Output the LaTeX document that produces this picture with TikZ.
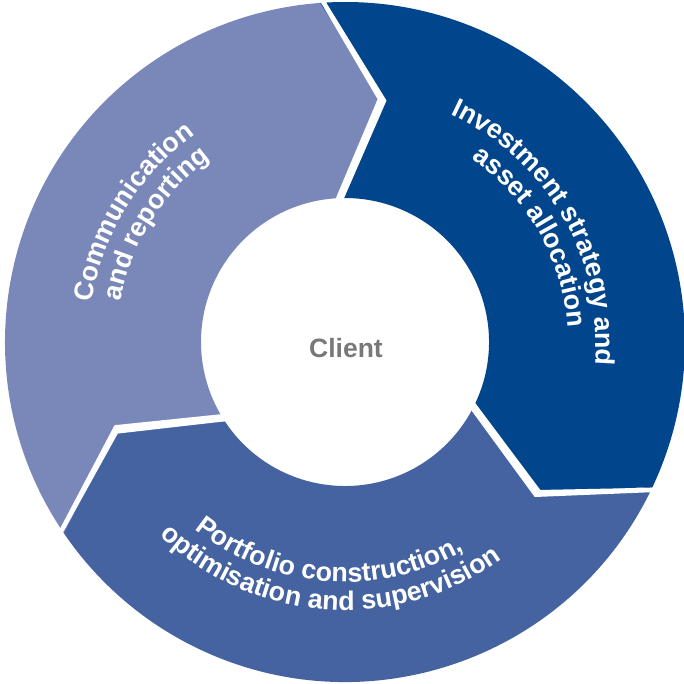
\documentclass[tikz,border=0pt]{standalone}
\usepackage{fontspec}
\setmainfont{Liberation Sans}
\usetikzlibrary{decorations.text,calc}
\definecolor{segLight}{RGB}{121,136,184}
\definecolor{segDark}{RGB}{1,70,140}
\definecolor{segMid}{RGB}{69,99,160}
\definecolor{clientGray}{RGB}{120,120,120}
\newcommand\ringgapfill[3]{%
  \fill[white] ({#1+0.4}:347pt) -- ({#2+1.05}:245pt) -- ({#3+1.75}:136pt)
     -- ({#3-1.75}:136pt) -- ({#2-1.05}:245pt) -- ({#1-0.4}:347pt) -- cycle;}
\tikzset{
  arctext/.style={decorate, decoration={text along path, text align=center,
      text color=white, text={|\fontsize{26.8pt}{30pt}\selectfont\bfseries|#1}}}
}
\begin{document}
\begin{tikzpicture}[x=1pt,y=1pt]
\useasboundingbox (-345,-341) rectangle (339,342);
% segments
\fill[segLight] (214.2:340pt) arc[start angle=214.2, end angle=94.2, radius=340pt]
  -- (81.3:245pt) -- (93.6:144pt) arc[start angle=93.6, end angle=213.4, radius=144pt]
  -- (200.9:245pt) -- cycle;
\fill[segDark] (94.2:340pt) arc[start angle=94.2, end angle=-25.2, radius=340pt]
  -- (-38.2:245pt) -- (-25.1:144pt) arc[start angle=-25.1, end angle=93.6, radius=144pt]
  -- (81.3:245pt) -- cycle;
\fill[segMid] (-25.2:340pt) arc[start angle=-25.2, end angle=-145.8, radius=340pt]
  -- (-159.1:245pt) -- (-146.6:144pt) arc[start angle=-146.6, end angle=-25.1, radius=144pt]
  -- (-38.2:245pt) -- cycle;
% gaps
\ringgapfill{94.2}{81.3}{93.6}
\ringgapfill{-25.2}{-38.2}{-25.1}
\ringgapfill{214.2}{200.9}{213.4}
% curved labels
\path[arctext={Communication}] (205:256pt) arc[start angle=205, end angle=92, radius=256pt];
\path[arctext={and reporting}] (205:228pt) arc[start angle=205, end angle=91, radius=228pt];
\path[arctext={Investment strategy and}] (89:251pt) arc[start angle=89, end angle=-29, radius=251pt];
\path[arctext={asset allocation}] (87:223pt) arc[start angle=87, end angle=-28, radius=223pt];
\path[arctext={Portfolio construction,}] (-160:240pt) arc[start angle=-160, end angle=-29, radius=240pt];
\path[arctext={optimisation and supervision}] (-160:268pt) arc[start angle=-160, end angle=-28, radius=268pt];
% centre
\node[font=\fontsize{26.5pt}{30pt}\selectfont\bfseries, text=clientGray] (client) at (1,-6) {Client};
\end{tikzpicture}
\end{document}
